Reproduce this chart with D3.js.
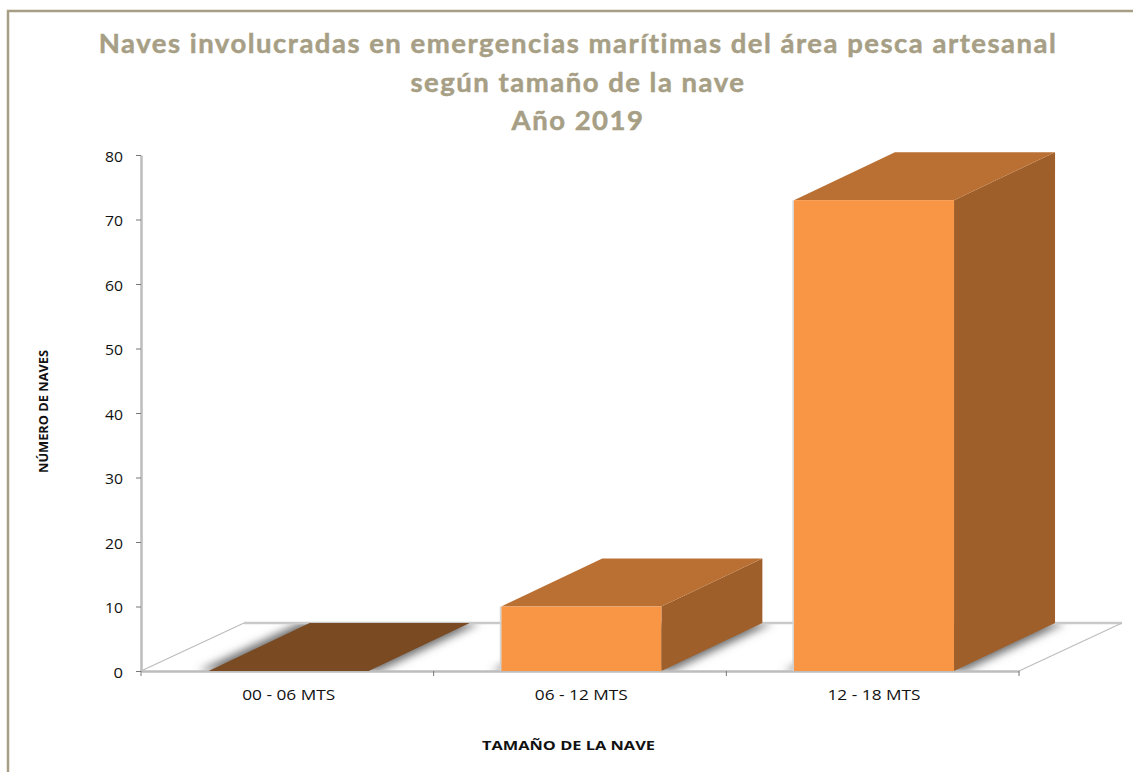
<!DOCTYPE html>
<html>
<head>
<meta charset="utf-8">
<script src="https://cdn.jsdelivr.net/npm/d3@7"></script>
<style>
	html, body { margin: 0; padding: 0; background: #fff; overflow: hidden; }
	svg { display: block; }
	.title { font-family: Lato, sans-serif; font-weight: 700; font-size: 27.5px; fill: #A79F85; stroke: #A79F85; stroke-width: 0.5px; text-anchor: middle; letter-spacing: 1.5px; }
	.tick text { font-family: "Open Sans", sans-serif; font-size: 14px; fill: #111; }
	.axisTitle { font-family: "Open Sans", sans-serif; font-weight: 700; font-size: 12.8px; fill: #111; text-anchor: middle; }
</style>
</head>
<body>
<svg id="vis" width="1133" height="772"></svg>
<script>
const categories = ["00 - 06 MTS", "06 - 12 MTS", "12 - 18 MTS"];
const values = [0, 10, 73];
const yTicks = [0, 10, 20, 30, 40, 50, 60, 70, 80];
const titleLines = [
	"Naves involucradas en emergencias marítimas del área pesca artesanal",
	"según tamaño de la nave",
	"Año 2019"
];

const svg = d3.select("svg#vis");

// the fake 3d depth, same offset for floor and bars
const depth = { x: 101, y: -48 };

const x = d3.scaleBand()
	.domain(categories)
	.range([141, 1019])
	.paddingInner(0.453)
	.paddingOuter(0.2265)
	.align(0.51);

const y = d3.scaleLinear()
	.domain([0, 80])
	.range([671, 155]);

// outer frame, runs off the right and bottom of the picture
svg.append("path")
	.attr("d", "M1133,11H8V772")
	.attr("fill", "none")
	.attr("stroke", "#A79F85")
	.attr("stroke-width", 2.5);

svg.selectAll("text.title")
	.data(titleLines)
	.enter()
	.append("text")
	.attr("class", "title")
	.attr("x", 578)
	.attr("y", (d, i) => 53 + i * 38.5)
	.text(d => d);

const defs = svg.append("defs");
defs.append("filter")
	.attr("id", "soft")
	.attr("x", "-20%").attr("y", "-20%")
	.attr("width", "140%").attr("height", "140%")
	.append("feGaussianBlur")
	.attr("stdDeviation", 4);

// floor
const floorPts = [
	[x.range()[0], y(0)],
	[x.range()[1], y(0)],
	[x.range()[1] + depth.x + 2, y(0) + depth.y],
	[x.range()[0] + depth.x + 2, y(0) + depth.y]
];
defs.append("clipPath")
	.attr("id", "floorClip")
	.append("polygon")
	.attr("points", floorPts.join(" "));

const floor = svg.append("g").attr("id", "floor");
floor.append("polygon")
	.attr("points", floorPts.join(" "))
	.attr("fill", "#fff");

// soft shadows the bars throw on the floor
floor.append("g")
	.attr("clip-path", "url(#floorClip)")
	.selectAll("polygon")
	.data(categories)
	.enter()
	.append("polygon")
	.attr("points", d => {
		const x0 = x(d) - 10, x1 = x0 + x.bandwidth() + 20;
		return [[x0, y(0)], [x1, y(0)], [x1 + depth.x, y(0) + depth.y], [x0 + depth.x, y(0) + depth.y]].join(" ");
	})
	.attr("fill", "#707070")
	.attr("filter", "url(#soft)");

// back and side edges of floor
floor.append("line")
	.attr("x1", floorPts[3][0]).attr("y1", floorPts[3][1])
	.attr("x2", floorPts[2][0]).attr("y2", floorPts[2][1])
	.attr("stroke", "#c9c9c9")
	.attr("stroke-width", 2.5);
floor.append("line")
	.attr("x1", floorPts[0][0]).attr("y1", floorPts[0][1])
	.attr("x2", floorPts[3][0]).attr("y2", floorPts[3][1])
	.attr("stroke", "#bdbdbd")
	.attr("stroke-width", 1.2);
floor.append("line")
	.attr("x1", floorPts[1][0]).attr("y1", floorPts[1][1])
	.attr("x2", floorPts[2][0]).attr("y2", floorPts[2][1])
	.attr("stroke", "#bdbdbd")
	.attr("stroke-width", 1.2);

// axes
const yAxis = svg.append("g")
	.attr("transform", translate(x.range()[0], 0))
	.call(d3.axisLeft(y).tickValues(yTicks).tickSize(5).tickSizeOuter(0).tickPadding(13));
const xAxis = svg.append("g")
	.attr("transform", translate(0, y(0)))
	.call(d3.axisBottom(x).tickSize(0).tickPadding(19));

yAxis.select(".domain").attr("stroke", "#BDBDBD").attr("stroke-width", 2.5);
yAxis.selectAll(".tick line").attr("stroke", "#777");
xAxis.select(".domain").attr("stroke", "#BDBDBD").attr("stroke-width", 2.5);

// reference picture is stretched sideways, so widen the labels to fit
yAxis.selectAll(".tick text")
	.attr("dy", "0.45em")
	.attr("textLength", d => d == 0 ? 9.5 : 18)
	.attr("lengthAdjust", "spacingAndGlyphs");
xAxis.selectAll(".tick text")
	.attr("textLength", 93)
	.attr("lengthAdjust", "spacingAndGlyphs");

// ticks between categories, the band axis only gives them at the centres
svg.append("g")
	.selectAll("line")
	.data(d3.range(categories.length + 1))
	.enter()
	.append("line")
	.attr("x1", i => x.range()[0] + i * x.step())
	.attr("x2", i => x.range()[0] + i * x.step())
	.attr("y1", y(0))
	.attr("y2", y(0) + 5)
	.attr("stroke", "#777");

// bars
const bars = svg.append("g")
	.selectAll("g.bar")
	.data(categories.map((c, i) => ({ category: c, value: values[i] })))
	.enter()
	.append("g")
	.attr("class", "bar");

bars.filter(d => d.value > 0).append("polygon")
	.attr("class", "side")
	.attr("fill", "#9F5F2B")
	.attr("points", d => {
		const r = x(d.category) + x.bandwidth();
		return [[r, y(d.value)], [r + depth.x, y(d.value) + depth.y], [r + depth.x, y(0) + depth.y], [r, y(0)]].join(" ");
	});

// a zero height bar is only its top face, which shows darker
bars.append("polygon")
	.attr("class", "top")
	.attr("fill", d => d.value > 0 ? "#BA7033" : "#7A4A22")
	.attr("points", d => {
		const l = x(d.category), r = l + x.bandwidth();
		return [[l, y(d.value)], [r, y(d.value)], [r + depth.x, y(d.value) + depth.y], [l + depth.x, y(d.value) + depth.y]].join(" ");
	});

bars.filter(d => d.value > 0).append("rect")
	.attr("class", "front")
	.attr("fill", "#F89645")
	.attr("x", d => x(d.category))
	.attr("y", d => y(d.value))
	.attr("width", x.bandwidth())
	.attr("height", d => y(0) - y(d.value));

// pale edge down the left of each bar
bars.filter(d => d.value > 0).append("line")
	.attr("x1", d => x(d.category) - 0.75)
	.attr("x2", d => x(d.category) - 0.75)
	.attr("y1", d => y(d.value))
	.attr("y2", y(0))
	.attr("stroke", "#d4d4d4")
	.attr("stroke-width", 1.5);

// axis titles
svg.append("text")
	.attr("class", "axisTitle")
	.attr("x", 568.5)
	.attr("y", 750)
	.attr("textLength", 173)
	.attr("lengthAdjust", "spacingAndGlyphs")
	.text("TAMAÑO DE LA NAVE");

svg.append("text")
	.attr("class", "axisTitle")
	.attr("transform", translate(48, 411.5) + " rotate(-90)")
	.text("NÚMERO DE NAVES");

function translate(x, y) {
	return "translate(" + x + "," + y + ")";
}
</script>
</body>
</html>
